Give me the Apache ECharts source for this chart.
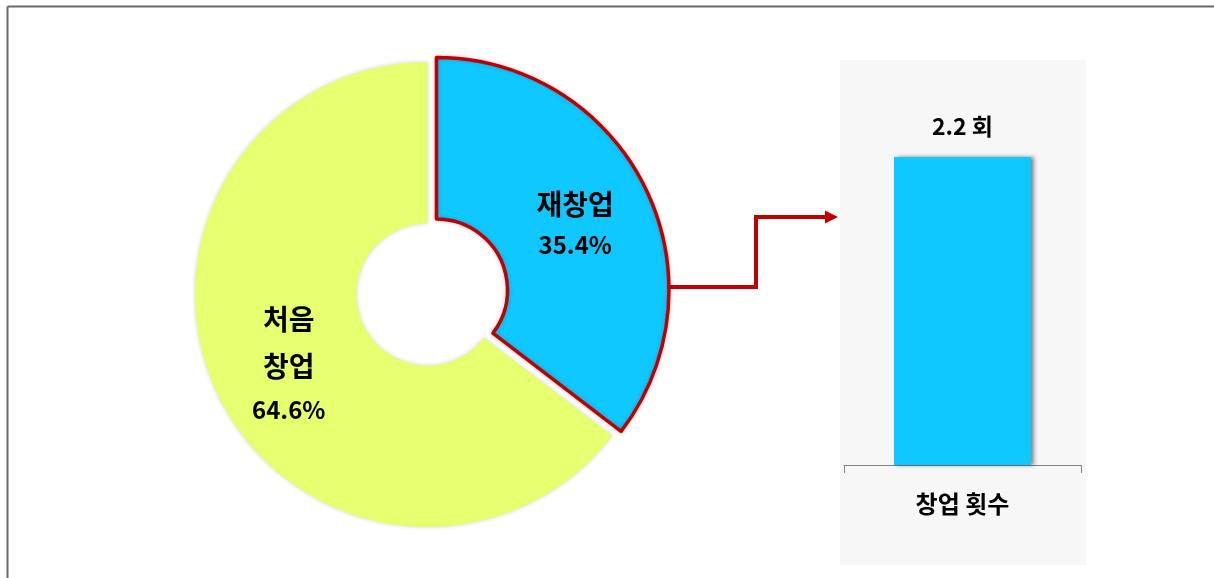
<!DOCTYPE html>
<html>
<head>
<meta charset="utf-8">
<script src="https://cdn.jsdelivr.net/npm/echarts@6/dist/echarts.min.js"></script>
<style>
  html, body { margin: 0; padding: 0; background: #ffffff; }
  #chart { width: 1214px; height: 578px; }
</style>
</head>
<body>
<div id="chart"></div>
<script>
// ---- data ----
const pieNames = ['재창업', '처음\n창업'];
const pieValues = [35.4, 64.6];
const barCategories = ['창업 횟수'];
const barValues = [2.2];
const barUnit = '회';

const FONT = '"Noto Sans CJK KR", "Noto Sans", sans-serif';
const RED = '#C00000';
const BLUE = '#0FC8FF';
const YELLOW = '#E6FF6E';

const chart = echarts.init(document.getElementById('chart'), null, { renderer: 'canvas' });

const pieData = pieNames.map((n, i) => {
  const item = { name: n, value: pieValues[i] };
  if (i === 0) {
    item.selected = true;
    item.itemStyle = { color: BLUE, borderColor: RED, borderWidth: 3.5 };
    item.label = {
      formatter: p => '{n|' + p.name + '}\n{p2|' + p.value.toFixed(1) + '%}'
    };
  } else {
    item.itemStyle = { color: YELLOW, borderColor: '#ffffff', borderWidth: 0 };
    item.label = {
      formatter: p => p.name.split('\n').map(s => '{n|' + s + '}').join('\n') + '\n{p|' + p.value.toFixed(1) + '%}'
    };
  }
  return item;
});

const option = {
  animation: false,
  backgroundColor: '#ffffff',
  graphic: [
    // outer frame (left & top)
    { type: 'line', shape: { x1: 7.5, y1: 6.5, x2: 7.5, y2: 578 }, style: { stroke: '#6b6b6b', lineWidth: 2 } },
    { type: 'line', shape: { x1: 7.5, y1: 6.5, x2: 1214, y2: 6.5 }, style: { stroke: '#6b6b6b', lineWidth: 2 } },
    // bar panel background
    { type: 'rect', z: -10, shape: { x: 840, y: 60, width: 246, height: 505 }, style: { fill: '#F7F7F7' } },
    // connector arrow
    { type: 'polyline', z: 10, shape: { points: [[670, 287], [756, 287], [756, 217], [828, 217]] }, style: { stroke: RED, lineWidth: 4, fill: null } },
    { type: 'polygon', z: 10, shape: { points: [[825, 210.5], [838, 217], [825, 223.5]] }, style: { fill: RED } }
  ],
  grid: { left: 844, right: 133, top: 157, bottom: 113, containLabel: false },
  xAxis: {
    type: 'category',
    data: barCategories,
    boundaryGap: true,
    axisLine: { show: true, lineStyle: { color: '#808080', width: 1 } },
    axisTick: { show: true, length: 8, lineStyle: { color: '#808080', width: 1 } },
    axisLabel: { margin: 27, fontFamily: FONT, fontSize: 24, fontWeight: 'bold', color: '#000' }
  },
  yAxis: { type: 'value', min: 0, max: 2.2, show: false, splitLine: { show: false } },
  series: [
    {
      type: 'pie',
      center: [427.5, 294.5],
      radius: [71, 232.5],
      startAngle: 90,
      clockwise: true,
      selectedMode: 'single',
      selectedOffset: 10,
      avoidLabelOverlap: false,
      itemStyle: { shadowBlur: 4, shadowColor: 'rgba(0,0,0,0.18)' },
      label: {
        show: true,
        position: 'inside',
        fontFamily: FONT,
        color: '#000',
        rich: {
          n: { fontFamily: FONT, fontSize: 28, fontWeight: 'bold', color: '#000', lineHeight: 47 },
          p: { fontFamily: FONT, fontSize: 24, fontWeight: 'bold', color: '#000', lineHeight: 41 },
          p2: { fontFamily: FONT, fontSize: 24, fontWeight: 'bold', color: '#000', lineHeight: 34 }
        }
      },
      labelLine: { show: false },
      emphasis: { disabled: true },
      data: pieData
    },
    {
      type: 'bar',
      data: barValues,
      barWidth: 137,
      itemStyle: {
        color: BLUE,
        shadowColor: 'rgba(0,0,0,0.45)',
        shadowBlur: 4,
        shadowOffsetX: 3,
        shadowOffsetY: 0
      },
      label: {
        show: true,
        position: 'top',
        distance: 19,
        formatter: p => p.value + ' ' + barUnit,
        fontFamily: FONT,
        fontSize: 23,
        fontWeight: 'bold',
        color: '#000'
      },
      emphasis: { disabled: true }
    }
  ]
};

chart.setOption(option);
</script>
</body>
</html>
